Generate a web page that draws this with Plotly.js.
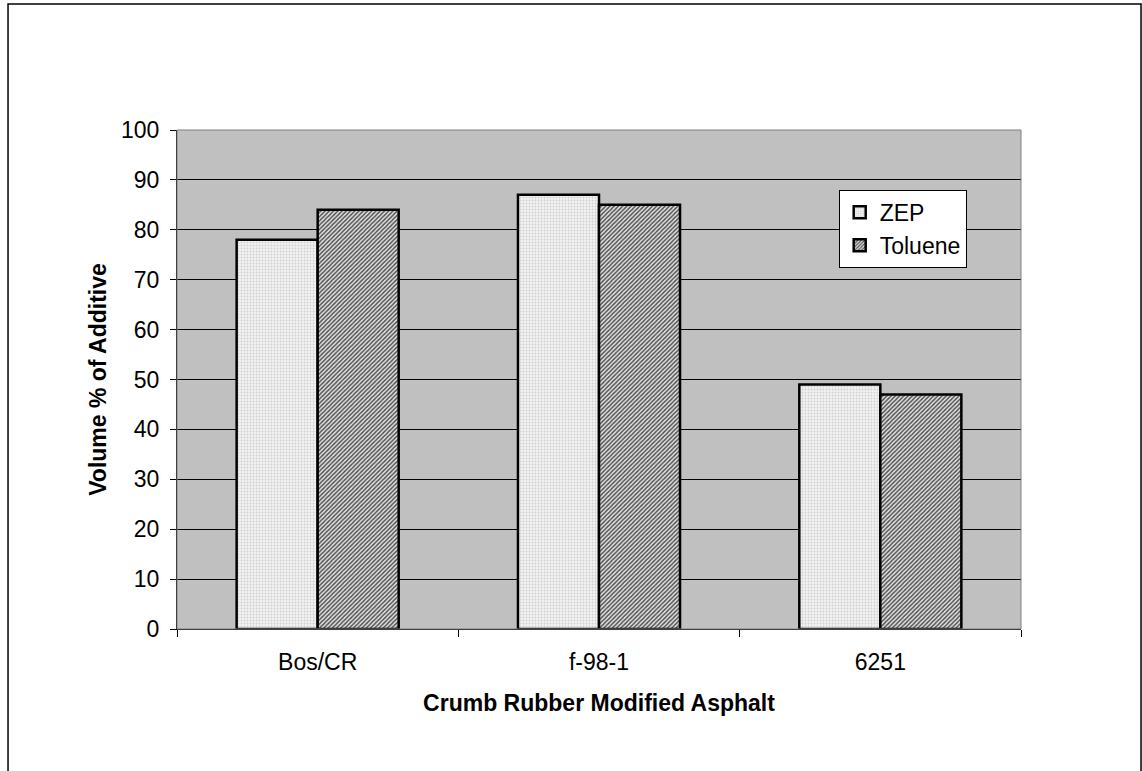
<!DOCTYPE html>
<html>
<head>
<meta charset="utf-8">
<script src="https://cdn.plot.ly/plotly-3.0.1.min.js"></script>
<style>html,body{margin:0;padding:0;background:#fff;}#chart{width:1142px;height:771px;}</style>
</head>
<body>
<div id="chart"></div>
<script>
const categories = ["Bos/CR", "f-98-1", "6251"];
const zepValues = [78, 87, 49];
const tolueneValues = [84, 85, 47];
const yTickValues = [0, 10, 20, 30, 40, 50, 60, 70, 80, 90, 100];

const font = "Liberation Sans, Arial, sans-serif";
const fs = 23;

const traces = [
  {
    type: "bar", name: "ZEP", x: categories, y: zepValues,
    marker: {
      color: "#f2f2f2",
      line: {color: "#000", width: 2.5},
      pattern: {shape: ".", size: 3, solidity: 0.3, fgcolor: "#cfcfcf", bgcolor: "#f2f2f2", fillmode: "replace"}
    },
    hoverinfo: "x+y"
  },
  {
    type: "bar", name: "Toluene", x: categories, y: tolueneValues,
    marker: {
      color: "#ffffff",
      line: {color: "#000", width: 2.5},
      pattern: {shape: "/", size: 3, solidity: 0.5, fgcolor: "#505050", bgcolor: "#e8e8e8", fillmode: "replace"}
    },
    hoverinfo: "x+y"
  }
];

const layout = {
  width: 1142, height: 771,
  margin: {l: 177, r: 121, t: 130, b: 142},
  paper_bgcolor: "#ffffff",
  plot_bgcolor: "#c0c0c0",
  font: {family: font, size: fs, color: "#000"},
  barmode: "group",
  bargap: 0.424,
  bargroupgap: 0,
  showlegend: true,
  legend: {
    x: 0.784, y: 0.88, xanchor: "left", yanchor: "top",
    bgcolor: "#ffffff", bordercolor: "#000", borderwidth: 1,
    font: {family: font, size: fs, color: "#000"},
    tracegroupgap: 0, itemwidth: 30, traceorder: "normal"
  },
  xaxis: {
    type: "category",
    showgrid: false,
    showline: true, linecolor: "#000", linewidth: 1,
    ticks: "outside", ticklen: 7, tickcolor: "#000", tickson: "boundaries",
    ticklabelstandoff: 12,
    tickfont: {family: font, size: fs, color: "#000"},
    title: {text: "<b>Crumb Rubber Modified Asphalt</b>", font: {family: font, size: fs, color: "#000"}, standoff: 21},
    zeroline: false,
    fixedrange: true
  },
  yaxis: {
    range: [0, 100],
    tickvals: yTickValues,
    ticktext: yTickValues.map(String),
    showgrid: true, gridcolor: "#000", gridwidth: 1,
    showline: true, linecolor: "#000", linewidth: 1,
    ticks: "outside", ticklen: 6, tickcolor: "#000",
    ticklabelstandoff: 6,
    tickfont: {family: font, size: fs, color: "#000"},
    title: {text: "<b>Volume % of Additive</b>", font: {family: font, size: fs, color: "#000"}, standoff: 7},
    zeroline: false,
    fixedrange: true
  },
  shapes: [
    {type: "rect", xref: "paper", yref: "paper", x0: 0, x1: 1, y0: 0, y1: 1,
     line: {color: "#808080", width: 1}, layer: "above"},
    {type: "rect", xref: "paper", yref: "paper", x0: -0.2002, x1: 1.1422, y0: -0.31, y1: 1.2525,
     line: {color: "#000", width: 1.5}, fillcolor: "rgba(0,0,0,0)", layer: "below"}
  ]
};

Plotly.newPlot("chart", traces, layout, {displayModeBar: false, staticPlot: true});
</script>
</body>
</html>
